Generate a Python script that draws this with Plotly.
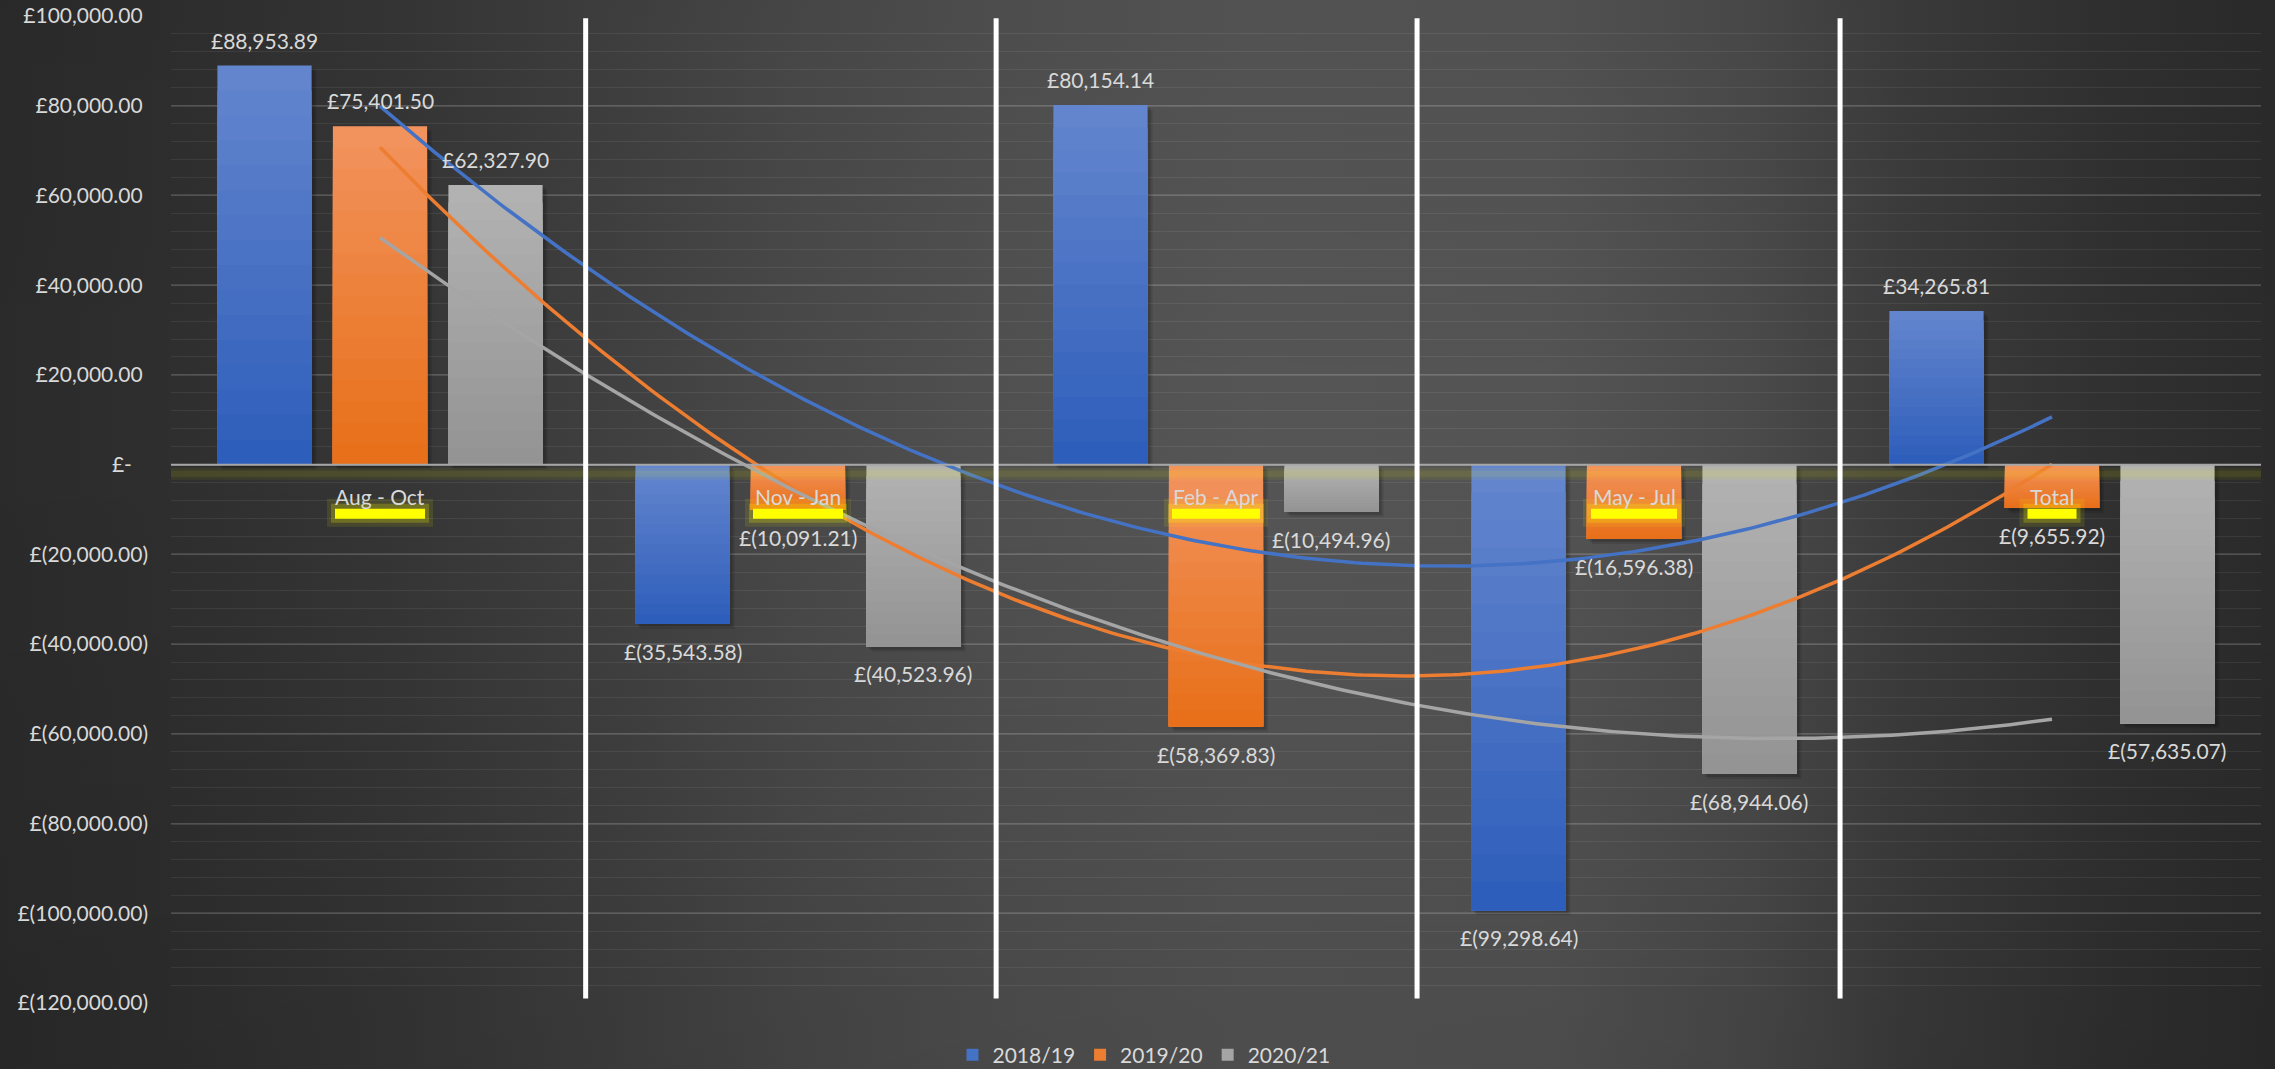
import base64
import numpy as np
import plotly.graph_objects as go

# ---------------- data ----------------
categories = ["Aug - Oct", "Nov - Jan", "Feb - Apr", "May - Jul", "Total"]
series_names = ["2018/19", "2019/20", "2020/21"]
values_2018_19 = [88953.89, -35543.58, 80154.14, -99298.64, 34265.81]
values_2019_20 = [75401.50, -10091.21, -58369.83, -16596.38, -9655.92]
values_2020_21 = [62327.90, -40523.96, -10494.96, -68944.06, -57635.07]
y_tick_vals = [100000, 80000, 60000, 40000, 20000, 0, -20000, -40000,
               -60000, -80000, -100000, -120000]
y_tick_text = ["£100,000.00", "£80,000.00", "£60,000.00", "£40,000.00",
               "£20,000.00", "£-", "£(20,000.00)", "£(40,000.00)",
               "£(60,000.00)", "£(80,000.00)", "£(100,000.00)", "£(120,000.00)"]

series_values = [values_2018_19, values_2019_20, values_2020_21]

# ---------------- style ----------------
W, H = 2275, 1069
ML, MR, MT, MB = 171, 14, 16, 66
PW, PH = W - ML - MR, H - MT - MB
Y_RANGE = (-120000, 100000)
FONT = "Lato, 'Open Sans', sans-serif"
TXT = "#d9d9d9"
FS = 21

top_cols = [(99, 133, 205), (242, 146, 92), (178, 178, 178)]
bot_cols = [(46, 94, 187), (232, 112, 26), (148, 148, 148)]
mid_cols = ["#4472c4", "#ed7d31", "#a5a5a5"]
line_cols = ["#4472c4", "#ed7d31", "#a5a5a5"]

bar_w = 0.2254
slot = 0.2763
N_GRAD = 16
label_band_w = [90, 90, 88, 86, 49]
sep_x = [0.492, 1.474, 2.481, 3.493]

x_idx = list(range(len(categories)))
px_x = (len(categories)) / PW            # data units per pixel (x)
px_y = (Y_RANGE[1] - Y_RANGE[0]) / PH    # data units per pixel (y)


def lerp(c1, c2, t):
    return "rgb(%d,%d,%d)" % tuple(round(a + (b - a) * t) for a, b in zip(c1, c2))


def fmt(v):
    s = "{:,.2f}".format(abs(v))
    return "£" + s if v >= 0 else "£(" + s + ")"


fig = go.Figure()

# soft drop shadows under bars
for k, vals in enumerate(series_values):
    off = (k - 1) * slot - bar_w / 2
    for d, a in [(5, 0.10), (3, 0.14)]:
        fig.add_trace(go.Bar(
            x=x_idx, y=[abs(v) for v in vals],
            base=[min(0, v) - d * px_y for v in vals],
            width=bar_w, offset=off + d * px_x,
            marker=dict(color="rgba(0,0,0,%g)" % a, line=dict(width=0)),
            showlegend=False, hoverinfo="skip",
        ))

# gradient-filled bars (overlapping layers, lighter at top, darker at bottom)
for k, vals in enumerate(series_values):
    off = (k - 1) * slot - bar_w / 2
    for j in range(N_GRAD):
        frac = 1 - j / N_GRAD
        fig.add_trace(go.Bar(
            x=x_idx,
            y=[abs(v) * frac for v in vals],
            base=[min(0, v) for v in vals],
            width=bar_w, offset=off,
            marker=dict(color=lerp(top_cols[k], bot_cols[k], j / (N_GRAD - 1)),
                        line=dict(width=0)),
            showlegend=False, hoverinfo="skip",
        ))
    # legend entry
    fig.add_trace(go.Bar(
        x=[0], y=[0], width=bar_w, offset=off, name=series_names[k],
        marker=dict(color=mid_cols[k], line=dict(width=0)),
        showlegend=True, hoverinfo="skip",
    ))

# polynomial (order 2) trendlines, as in the original chart
xs = np.linspace(0, len(categories) - 1, 241)
for k, vals in enumerate(series_values):
    coef = np.polyfit(x_idx, vals, 2)
    fig.add_trace(go.Scatter(
        x=xs, y=np.polyval(coef, xs), mode="lines",
        line=dict(color=line_cols[k], width=3.5),
        showlegend=False, hoverinfo="skip",
    ))

annotations = []
# data labels
for k, vals in enumerate(series_values):
    for i, v in enumerate(vals):
        annotations.append(dict(
            x=i + (k - 1) * slot, y=v, xref="x", yref="y",
            text=fmt(v), showarrow=False,
            font=dict(family=FONT, size=FS, color=TXT),
            yanchor="bottom" if v >= 0 else "top",
            yshift=11 if v >= 0 else -13,
        ))
# category labels
for i, c in enumerate(categories):
    annotations.append(dict(
        x=i, y=0, xref="x", yref="y", text=c, showarrow=False,
        font=dict(family=FONT, size=FS, color=TXT),
        yanchor="middle", yshift=-32,
    ))

shapes = []
# zero-line glow and axis line
shapes.append(dict(type="rect", xref="paper", x0=0, x1=1, yref="y",
                   ysizemode="pixel", yanchor=0, y0=-3, y1=-15,
                   fillcolor="rgba(255,255,0,0.06)", line=dict(width=0), layer="above"))
shapes.append(dict(type="rect", xref="paper", x0=0, x1=1, yref="y",
                   ysizemode="pixel", yanchor=0, y0=-6, y1=-12,
                   fillcolor="rgba(255,255,0,0.07)", line=dict(width=0), layer="above"))
shapes.append(dict(type="line", xref="paper", x0=0, x1=1, yref="y", y0=0, y1=0,
                   line=dict(color="#a6a6a6", width=2), layer="above"))
# yellow highlight under category labels
for i, w in enumerate(label_band_w):
    for pad, (ya, yb), col in [(8, (-34, -62), "rgba(255,255,0,0.10)"),
                               (4, (-39, -58), "rgba(255,255,0,0.22)"),
                               (0, (-44, -54), "#ffff00")]:
        shapes.append(dict(type="rect", xref="x", xsizemode="pixel", xanchor=i,
                           x0=-w / 2 - pad, x1=w / 2 + pad,
                           yref="y", ysizemode="pixel", yanchor=0, y0=ya, y1=yb,
                           fillcolor=col, line=dict(width=0), layer="above"))
# white separators
for sx in sep_x:
    shapes.append(dict(type="line", xref="x", x0=sx, x1=sx, yref="y",
                       y0=-119000, y1=99500, line=dict(color="#ffffff", width=5),
                       layer="above"))

# background gradient as inline SVG image
stops_h = [(0, "#2b2b2b"), (0.066, "#2e2e2e"), (0.176, "#363636"), (0.264, "#3f3f3f"),
           (0.352, "#494949"), (0.44, "#505050"), (0.55, "#555555"), (0.68, "#545454"),
           (0.77, "#4a4a4a"), (0.835, "#3c3c3c"), (0.923, "#313131"), (1, "#2b2b2b")]
svg = ('<svg xmlns="http://www.w3.org/2000/svg" width="%d" height="%d" viewBox="0 0 %d %d">'
       '<defs><linearGradient id="h" x1="0" y1="0" x2="1" y2="0">' % (W, H, W, H)
       + "".join('<stop offset="%g" stop-color="%s"/>' % s for s in stops_h)
       + '</linearGradient><linearGradient id="v" x1="0" y1="0" x2="0" y2="1">'
       '<stop offset="0" stop-color="#000" stop-opacity="0.04"/>'
       '<stop offset="0.4" stop-color="#000" stop-opacity="0"/>'
       '<stop offset="1" stop-color="#000" stop-opacity="0.1"/>'
       '</linearGradient></defs>'
       '<rect width="%d" height="%d" fill="url(#h)"/>'
       '<rect width="%d" height="%d" fill="url(#v)"/></svg>' % (W, H, W, H))
bg_uri = "data:image/svg+xml;base64," + base64.b64encode(svg.encode()).decode()

tick_text_padded = []
for v, t in zip(y_tick_vals, y_tick_text):
    if v > 0:
        tick_text_padded.append(t + "\u00a0")
    elif v == 0:
        tick_text_padded.append(t + "\u00a0" * 3)
    else:
        tick_text_padded.append(t)

fig.update_layout(
    width=W, height=H,
    margin=dict(l=ML, r=MR, t=MT, b=MB, pad=0, autoexpand=False),
    paper_bgcolor="#2b2b2b", plot_bgcolor="rgba(0,0,0,0)",
    barmode="overlay",
    font=dict(family=FONT, size=FS, color=TXT),
    showlegend=True,
    legend=dict(orientation="h", x=(1144 - ML) / PW, xanchor="center",
                y=-52 / PH, yanchor="middle", bgcolor="rgba(0,0,0,0)",
                font=dict(family=FONT, size=FS, color=TXT), itemclick=False),
    annotations=annotations,
    shapes=shapes,
    images=[dict(source=bg_uri, xref="paper", yref="paper",
                 x=-ML / PW, y=(PH + MT) / PH, sizex=W / PW, sizey=H / PH,
                 xanchor="left", yanchor="top", sizing="stretch", layer="below")],
    xaxis=dict(range=[-0.5, len(categories) - 0.5], showgrid=False, zeroline=False,
               showticklabels=False, showline=False, fixedrange=True),
    yaxis=dict(range=list(Y_RANGE), tickvals=y_tick_vals, ticktext=tick_text_padded,
               showgrid=True, gridcolor="rgba(255,255,255,0.12)", gridwidth=1.5,
               minor=dict(dtick=4000, showgrid=True, gridcolor="rgba(255,255,255,0.07)",
                          gridwidth=1.2),
               zeroline=False, showline=False, ticks="", ticklabelstandoff=22,
               tickfont=dict(family=FONT, size=FS, color=TXT), fixedrange=True),
)

fig.write_html("out.html")
